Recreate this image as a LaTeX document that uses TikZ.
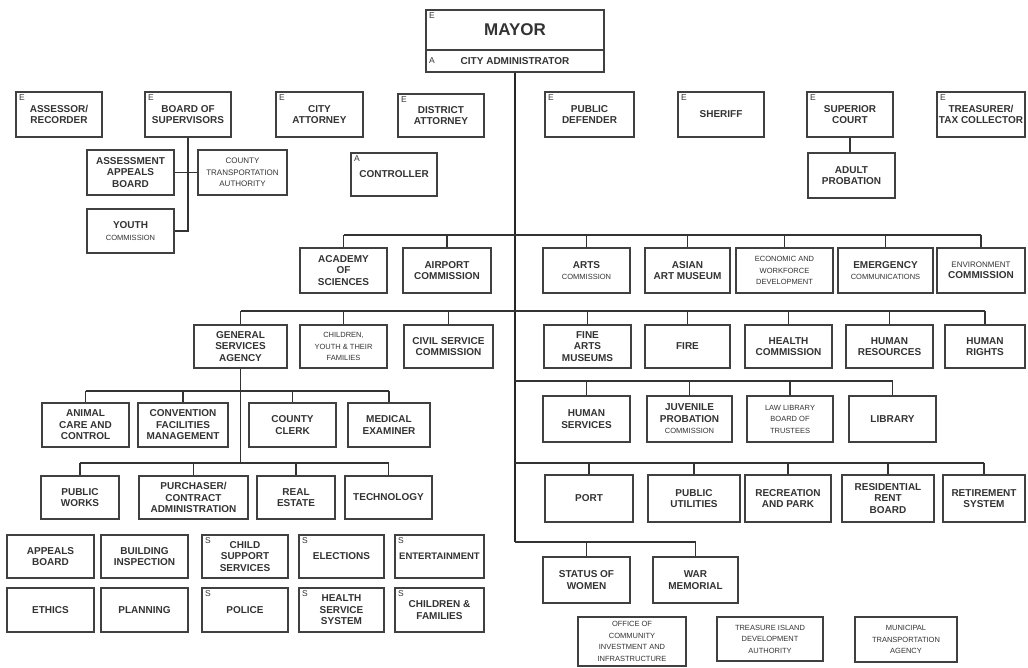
\documentclass[tikz,border=0pt]{standalone}
\usepackage{fontspec}
\setmainfont{Liberation Sans}
\usetikzlibrary{positioning}
\tikzset{
  unit/.style={
    draw=black!75,
    line width=1.3pt,
    fill=white,
    align=center,
    inner sep=1pt,
    text=black!80,
    font=\fontsize{10}{11.5}\selectfont\bfseries
  },
  box/.style 2 args={unit, minimum width=#1pt, minimum height=#2pt},
  tag/.style={
    anchor=north west,
    inner sep=2pt,
    xshift=1.5pt,
    yshift=-1.5pt,
    text=black!80,
    font=\fontsize{8.5}{8.5}\selectfont
  },
  link/.style={draw=black!80, line width=1.2pt},
  trunk/.style={draw=black!85, line width=2.2pt}
}
\newcommand{\sm}{\fontsize{7.5}{9}\mdseries\selectfont}

\begin{document}
\begin{tikzpicture}[x=1pt, y=-1pt]
  \useasboundingbox (0,0) rectangle (1028,667);

  % ==== 1. 市长与城市行政官 ====
  \node[box={178}{40}, font=\fontsize{17}{17}\selectfont\bfseries] (mayor) at (515,30) {MAYOR};
  \node[box={178}{22}] (ca) at (515,61) {CITY ADMINISTRATOR};
  \node[tag] (mayor-t) at (mayor.north west) {E};
  \node[tag, anchor=west, yshift=1.5pt] (ca-t) at (ca.west) {A};

  % 各级总线的高度
  \coordinate (busA) at (515,235);
  \coordinate (busB) at (515,311);
  \coordinate (busC) at (515,381);
  \coordinate (busD) at (515,463);
  \coordinate (busE) at (515,542);
  \coordinate (gsaA) at (236,391);
  \coordinate (gsaB) at (236,463);

  % 主干竖线
  \draw[trunk] (ca.south) -- (ca.south |- busE);

  % ==== 2. 选任官员一行 ====
  \node[box={86}{45}] (assessor) at (59,114.5) {ASSESSOR/\\RECORDER};
  \node[box={86}{45}] (bos) at (188,114.5) {BOARD OF\\SUPERVISORS};
  \node[box={87}{45}] (cityatt) at (319.5,114.5) {CITY\\ATTORNEY};
  \node[box={86}{43}] (da) at (441,115.5) {DISTRICT\\ATTORNEY};
  \node[box={89}{45}] (pd) at (589.5,114.5) {PUBLIC\\DEFENDER};
  \node[box={86}{45}] (sheriff) at (721,114.5) {SHERIFF};
  \node[box={86}{45}] (supcourt) at (850,114.5) {SUPERIOR\\COURT};
  \node[box={88}{45}] (treas) at (981,114.5) {TREASURER/\\TAX COLLECTOR};
  \foreach \n in {assessor,bos,cityatt,da,pd,sheriff,supcourt,treas}
    \node[tag] (\n-t) at (\n.north west) {E};

  % 监事会下属
  \node[box={87}{45}] (aab) at (130.5,172.5) {ASSESSMENT\\APPEALS\\BOARD};
  \node[box={89}{45}] (cta) at (242.5,172.5) {\sm\fontsize{8}{9.5}\selectfont COUNTY\\\sm\fontsize{8}{9.5}\selectfont TRANSPORTATION\\\sm\fontsize{8}{9.5}\selectfont AUTHORITY};
  \node[box={87}{44}] (youth) at (130.5,231) {YOUTH\\{\sm COMMISSION}};
  \node[box={86}{43}] (controller) at (394,174.5) {CONTROLLER};
  \node[tag] (controller-t) at (controller.north west) {A};
  \node[box={87}{45}] (adultprob) at (851.5,175.5) {ADULT\\PROBATION};

  \draw[link] (bos.south) |- (youth.east);
  \draw[link] (aab.east) -- (cta.west);
  \draw[link] (supcourt.south) -- (supcourt.south |- adultprob.north);

  % ==== 3. 第一层委员会 ====
  \node[box={87}{45}] (acad) at (343.5,270.5) {ACADEMY\\OF\\SCIENCES};
  \node[box={88}{45}] (airport) at (447,270.5) {AIRPORT\\COMMISSION};
  \node[box={87}{45}] (arts) at (586.5,270.5) {ARTS\\{\sm COMMISSION}};
  \node[box={85}{45}] (asian) at (687.5,270.5) {ASIAN\\ART MUSEUM};
  \node[box={97}{45}] (econ) at (784.5,270.5) {\sm ECONOMIC AND\\\sm WORKFORCE\\\sm DEVELOPMENT};
  \node[box={95}{45}] (emerg) at (885.5,270.5) {EMERGENCY\\{\sm COMMUNICATIONS}};
  \node[box={88}{45}] (envc) at (981,270.5) {\sm\fontsize{8}{9.5}\selectfont ENVIRONMENT\\COMMISSION};
  \draw[link] (acad.north |- busA) -- (envc.north |- busA);
  \foreach \n in {acad,airport,arts,asian,econ,emerg,envc}
    \draw[link] (\n.north) -- (\n.north |- busA);

  % ==== 4. 第二层部门 ====
  \node[box={93}{43}] (gsa) at (240.5,346.5) {GENERAL\\SERVICES\\AGENCY};
  \node[box={87}{43}] (cyf) at (343.5,346.5) {\sm CHILDREN,\\\sm YOUTH \& THEIR\\\sm FAMILIES};
  \node[box={89}{43}] (csc) at (448.5,346.5) {CIVIL SERVICE\\COMMISSION};
  \node[box={87}{43}] (fam) at (587.5,346.5) {FINE\\ARTS\\MUSEUMS};
  \node[box={85}{43}] (fire) at (687.5,346.5) {FIRE};
  \node[box={87}{43}] (health) at (788.5,346.5) {HEALTH\\COMMISSION};
  \node[box={87}{43}] (hr) at (889.5,346.5) {HUMAN\\RESOURCES};
  \node[box={80}{43}] (hrights) at (985,346.5) {HUMAN\\RIGHTS};
  \draw[link] (gsa.north |- busB) -- (hrights.north |- busB);
  \foreach \n in {gsa,cyf,csc,fam,fire,health,hr,hrights}
    \draw[link] (\n.north) -- (\n.north |- busB);

  % ==== 5. 总务署下属 ====
  \node[box={87}{44}] (animal) at (85.5,425) {ANIMAL\\CARE AND\\CONTROL};
  \node[box={90}{44}] (convention) at (183,425) {CONVENTION\\FACILITIES\\MANAGEMENT};
  \node[box={87}{44}] (clerk) at (292.5,425) {COUNTY\\CLERK};
  \node[box={82}{44}] (medical) at (389,425) {MEDICAL\\EXAMINER};
  \node[box={78}{43}] (dpw) at (80,497.5) {PUBLIC\\WORKS};
  \node[box={109}{43}] (purchaser) at (193.5,497.5) {PURCHASER/\\CONTRACT\\ADMINISTRATION};
  \node[box={78}{43}] (realestate) at (296,497.5) {REAL\\ESTATE};
  \node[box={87}{43}] (tech) at (388.5,497.5) {TECHNOLOGY};
  \draw[link] (gsa.south) -- (gsa.south |- gsaB);
  \draw[link] (animal.north |- gsaA) -- (medical.north |- gsaA);
  \foreach \n in {animal,convention,clerk,medical}
    \draw[link] (\n.north) -- (\n.north |- gsaA);
  \draw[link] (dpw.north |- gsaB) -- (tech.north |- gsaB);
  \foreach \n in {dpw,purchaser,realestate,tech}
    \draw[link] (\n.north) -- (\n.north |- gsaB);

  % ==== 6. 右侧第三、四层 ====
  \node[box={87}{46}] (hsa) at (586.5,419) {HUMAN\\SERVICES};
  \node[box={85}{46}] (juvenile) at (689.5,419) {JUVENILE\\PROBATION\\{\sm COMMISSION}};
  \node[box={86}{46}] (lawlib) at (790,419) {\sm LAW LIBRARY\\\sm BOARD OF\\\sm TRUSTEES};
  \node[box={87}{46}] (library) at (892.5,419) {LIBRARY};
  \draw[link] (busC) -- (library.north |- busC);
  \foreach \n in {hsa,juvenile,lawlib,library}
    \draw[link] (\n.north) -- (\n.north |- busC);

  \node[box={88}{47}] (port) at (589,498.5) {PORT};
  \node[box={92}{47}] (puc) at (694,498.5) {PUBLIC\\UTILITIES};
  \node[box={86}{47}] (rec) at (788,498.5) {RECREATION\\AND PARK};
  \node[box={92}{47}] (rent) at (888,498.5) {RESIDENTIAL\\RENT\\BOARD};
  \node[box={82}{47}] (retire) at (984,498.5) {RETIREMENT\\SYSTEM};
  \draw[link] (busD) -- (retire.north |- busD);
  \foreach \n in {port,puc,rec,rent,retire}
    \draw[link] (\n.north) -- (\n.north |- busD);

  \node[box={87}{46}] (women) at (586.5,580) {STATUS OF\\WOMEN};
  \node[box={85}{46}] (warmem) at (695.5,580) {WAR\\MEMORIAL};
  \draw[link] (busE) -- (warmem.north |- busE);
  \foreach \n in {women,warmem}
    \draw[link] (\n.north) -- (\n.north |- busE);

  % ==== 7. 未连线的机构 ====
  \node[box={87}{43}] (appeals) at (50.5,556.5) {APPEALS\\BOARD};
  \node[box={87}{43}] (dbi) at (144.5,556.5) {BUILDING\\INSPECTION};
  \node[box={86}{43}] (child) at (245,556.5) {CHILD\\SUPPORT\\SERVICES};
  \node[box={85}{43}] (elections) at (341.5,556.5) {ELECTIONS};
  \node[box={89}{43}, font=\fontsize{9.5}{11}\selectfont\bfseries] (entertain) at (439.5,556.5) {ENTERTAINMENT};
  \node[box={87}{44}] (ethics) at (50.5,610) {ETHICS};
  \node[box={87}{44}] (planning) at (144.5,610) {PLANNING};
  \node[box={86}{44}] (police) at (245,610) {POLICE};
  \node[box={85}{44}] (hss) at (341.5,610) {HEALTH\\SERVICE\\SYSTEM};
  \node[box={89}{44}] (dcf) at (439.5,610) {CHILDREN \&\\FAMILIES};
  \foreach \n in {child,elections,entertain,police,hss,dcf}
    \node[tag] (\n-t) at (\n.north west) {S};

  \node[box={108}{49}] (ocii) at (632,641.5) {\sm OFFICE OF\\\sm COMMUNITY\\\sm INVESTMENT AND\\\sm INFRASTRUCTURE};
  \node[box={106}{44}] (tida) at (770,639) {\sm TREASURE ISLAND\\\sm DEVELOPMENT\\\sm AUTHORITY};
  \node[box={102}{45}] (mta) at (906,639.5) {\sm MUNICIPAL\\\sm TRANSPORTATION\\\sm AGENCY};
\end{tikzpicture}
\end{document}
